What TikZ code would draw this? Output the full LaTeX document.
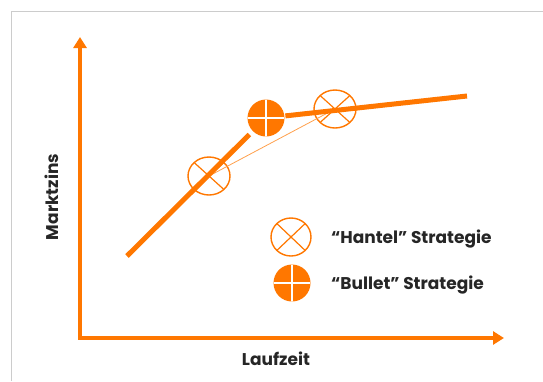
\documentclass[tikz,border=0pt]{standalone}
\usepackage{fontspec}
\setmainfont{Poppins}
\usetikzlibrary{arrows.meta,shapes.geometric}
\definecolor{org}{HTML}{FF7700}
\begin{document}
\begin{tikzpicture}[x=1pt,y=-1pt,
  lbl/.style={font=\fontsize{17}{20}\selectfont\bfseries, text=black!85, inner sep=0pt},
  hantel/.style={ellipse, draw=org, line width=1.4pt, minimum width=#1, minimum height=38pt, inner sep=0pt, outer sep=0pt,
    path picture={\draw[org, line width=1.2pt] (path picture bounding box.north west) -- (path picture bounding box.south east)
      (path picture bounding box.north east) -- (path picture bounding box.south west);}},
  hantel/.default=42pt,
  bullet/.style={circle, fill=org, minimum size=37pt, inner sep=0pt, outer sep=0pt,
    path picture={\draw[white, line width=1.2pt] (path picture bounding box.north) -- (path picture bounding box.south)
      (path picture bounding box.west) -- (path picture bounding box.east);}},
  axis/.style={org, line width=4pt, line join=miter, {Triangle[length=11pt,width=13pt]}-{Triangle[length=11pt,width=13pt]}},
  curve/.style={org, line width=5pt},
]
\useasboundingbox (0,0) rectangle (543,381);
\draw[black!20, line width=1pt] (11,381) -- (11,11) -- (543,11);
\coordinate (ytop) at (80,37);
\coordinate (O) at (80,338);
\coordinate (xend) at (504,338);
\draw[axis] (ytop) -- (O) -- (xend);
\coordinate (c0) at (127,256);
\coordinate (c1) at (467,96);
\node[hantel] (H1) at (209,176) {};
\node[hantel] (H2) at (335,109) {};
\node[bullet] (B) at (266,118) {};
\draw[org!70, line width=0.8pt] (H1.center) -- (H2.center);
\draw[curve, shorten >=5pt] (c0) -- (B);
\draw[curve, shorten <=1pt] (B) -- (c1);
\node[hantel=40pt] (LH) at (291,237) {};
\node[bullet] (LB) at (292,283) {};
\node[lbl, anchor=base west] (th) at (331,243) {“Hantel” Strategie};
\node[lbl, anchor=base west] (tb) at (331,289) {“Bullet” Strategie};
\node[lbl, rotate=90, anchor=base] (ylab) at (58,197) {Marktzins};
\node[lbl, anchor=base] (xlab) at (276,365) {Laufzeit};
\end{tikzpicture}
\end{document}
